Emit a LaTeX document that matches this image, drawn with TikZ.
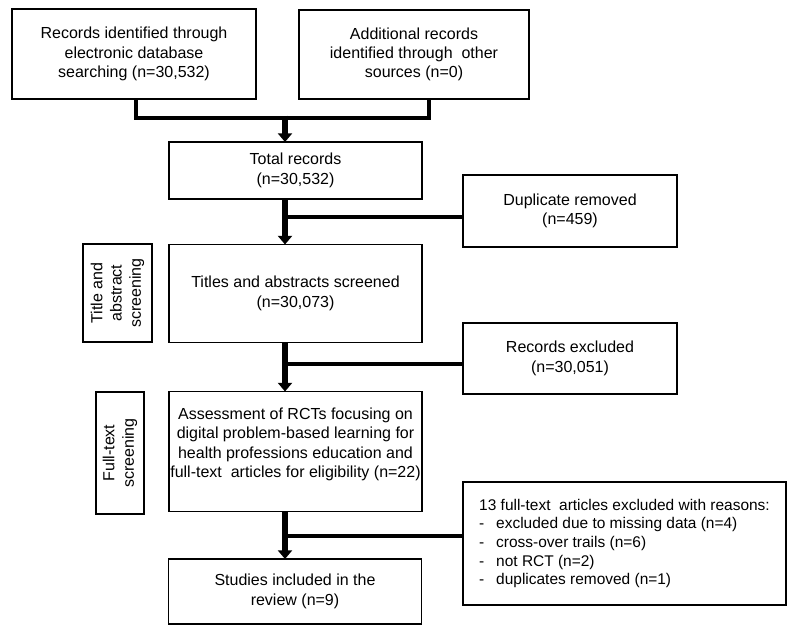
\documentclass[tikz,border=0pt]{standalone}
\usepackage{fontspec}
\setmainfont{Liberation Sans}
\usetikzlibrary{arrows.meta}
\tikzset{
  sz/.style 2 args={minimum width=#1*0.75pt, minimum height=#2*0.75pt},
  box/.style={draw, line width=0.8pt, inner sep=0pt, outer sep=0pt, align=center,
    font=\fontsize{12}{14.5}\selectfont},
  txt/.style={inner sep=0pt, align=center, font=\fontsize{12}{14.5}\selectfont},
  conn/.style={line width=3.6pt, line join=miter},
  arr/.style={line width=5.2pt, -{Triangle[width=10.5pt,length=6.5pt]}},
}
\begin{document}
\begin{tikzpicture}[x=0.75pt, y=-0.75pt]
\useasboundingbox (0,0) rectangle (795,643);

\node[box, sz={244}{90}] (recA) at (134,54) {Records identified through\\electronic database\\searching (n=30,532)};
\node[box, sz={230}{89}] (recB) at (414,54.5) {Additional records\\identified through~ other\\sources (n=0)};
\node[box, sz={253}{57}] (total) at (295.5,170.5) {Total records\\(n=30,532)};
\node[box, sz={214}{72}] (dup) at (570,211) {Duplicate removed\\(n=459)};
\node[box, sz={98}{69}, rotate=90] (side1) at (117.5,293) {Title and\\abstract\\screening};
\node[box, sz={253}{98}] (titles) at (295.5,293.5) {Titles and abstracts screened\\(n=30,073)};
\node[box, sz={214}{71}] (recex) at (570,358.5) {Records excluded\\(n=30,051)};
\node[box, sz={122}{48}, rotate=90] (side2) at (120,453) {Full-text\\screening};
\node[box, sz={253}{120}] (assess) at (295.5,451.5) {};
\node[txt] (assesstxt) at (295.5,444.5) {Assessment of RCTs focusing on\\digital problem-based learning for\\health professions education and\\full-text~ articles for eligibility (n=22)};
\node[box, sz={323}{123}, align=left, font=\fontsize{11.6}{14}\selectfont] (excl) at (624.5,543.5) {13 full-text~ articles excluded with reasons:\\
\makebox[12.75pt][l]{-}excluded due to missing data (n=4)\\
\makebox[12.75pt][l]{-}cross-over trails (n=6)\\
\makebox[12.75pt][l]{-}not RCT (n=2)\\
\makebox[12.75pt][l]{-}duplicates removed (n=1)};
\node[box, sz={253}{65}] (studies) at (295,591.5) {Studies included in the\\review (n=9)};

\coordinate (jA) at (136,118);
\coordinate (jB) at (429,118);
\coordinate (jM) at (285,118);
\coordinate (b1) at (285,217);
\coordinate (b2) at (285,364);
\coordinate (b3) at (285,536);

\draw[conn] (recA.south -| jA) -- (jA) -- (jB) -- (recB.south -| jB);
\draw[arr] ([yshift=1.8pt]jM) -- (total.north -| jM);
\draw[arr] (total.south -| jM) -- (titles.north -| jM);
\draw[conn] (b1) -- (dup.west |- b1);
\draw[arr] (titles.south -| jM) -- (assess.north -| jM);
\draw[conn] (b2) -- (recex.west |- b2);
\draw[arr] (assess.south -| jM) -- (studies.north -| jM);
\draw[conn] (b3) -- (excl.west |- b3);
\end{tikzpicture}
\end{document}
